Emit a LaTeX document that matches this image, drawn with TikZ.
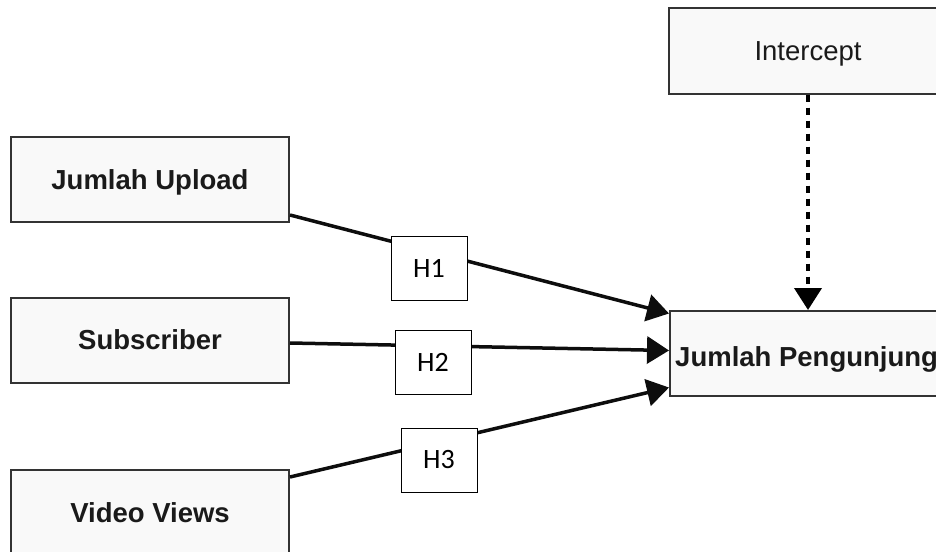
\documentclass[tikz,border=0pt]{standalone}
\usepackage{fontspec}
\setmainfont{Liberation Sans}
\newfontfamily\hfont{Carlito}
\usetikzlibrary{arrows.meta}
\definecolor{boxfill}{HTML}{F9F9F9}
\definecolor{boxline}{HTML}{333333}
\definecolor{txt}{HTML}{1A1A1A}
\tikzset{
  varbox/.style={draw=boxline, line width=2pt, fill=boxfill, inner sep=0pt, minimum width=278pt, minimum height=85pt, text depth=0pt, text=txt, font=\fontsize{27.5}{30}\selectfont\bfseries},
  hbox/.style={draw=black, line width=1pt, fill=white, inner sep=0pt, minimum width=76pt, minimum height=64pt, font=\hfont\fontsize{28}{30}\selectfont},
  link/.style={line width=3.5pt, draw=black!95, -{Triangle[width=27pt,length=22pt]}},
  dlink/.style={line width=4pt, draw=black, dash pattern=on 7pt off 6pt, -{Triangle[width=27pt,length=22pt]}}
}
\begin{document}
\begin{tikzpicture}[x=1pt,y=-1pt]
\useasboundingbox (0,0) rectangle (936,551);
\clip (0,0) rectangle (936,551);
\node[varbox] (up) at (150,179.5) {Jumlah Upload};
\node[varbox] (sub) at (150,340) {Subscriber};
\node[varbox] (vv) at (150,512.5) {Video Views};
\node[varbox, font=\fontsize{27.5}{30}\selectfont] (ic) at (808,51) {Intercept};
\node[varbox, minimum width=300pt] (jp) at (820,353.5) {};
\node[anchor=west, text=txt, font=\fontsize{27.5}{30}\selectfont\bfseries, inner sep=0pt, text depth=0pt] (jpt) at ([xshift=6pt,yshift=-3pt]jp.west) {Jumlah Pengunjung};
\draw[link] ([yshift=-35.5pt]up.east) -- ([yshift=40pt]jp.west);
\draw[link] ([yshift=-3pt]sub.east) -- ([yshift=3pt]jp.west);
\draw[link] ([yshift=-8pt]vv.north east) -- ([yshift=-34pt]jp.west);
\draw[dlink] (ic.south) -- (ic.south |- jp.north);
\node[hbox] (h1) at (429,268) {H1};
\node[hbox] (h2) at (433,362) {H2};
\node[hbox] (h3) at (439,460) {H3};
\end{tikzpicture}
\end{document}
